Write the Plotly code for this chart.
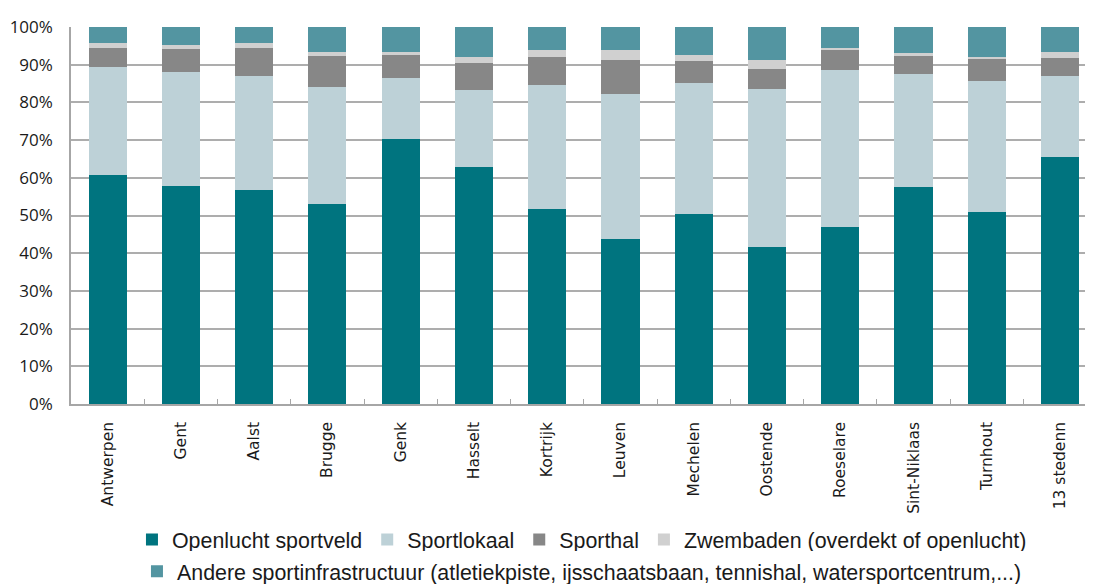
import plotly.graph_objects as go

steden = ["Antwerpen", "Gent", "Aalst", "Brugge", "Genk", "Hasselt", "Kortrijk",
          "Leuven", "Mechelen", "Oostende", "Roeselare", "Sint-Niklaas", "Turnhout",
          "13 stedenn"]

# shares in %
openlucht = [60.7, 57.8, 56.7, 53.0, 70.2, 62.8, 51.7, 43.7, 50.4, 41.6, 46.9, 57.5, 50.9, 65.5]
sportlokaal = [28.6, 30.2, 30.2, 31.0, 16.2, 20.4, 32.8, 38.5, 34.7, 41.9, 41.6, 30.0, 34.7, 21.4]
sporthal = [5.1, 6.1, 7.5, 8.2, 6.4, 7.2, 7.5, 9.0, 5.8, 5.3, 5.3, 4.7, 5.8, 4.8]
zwembaden = [1.3, 1.1, 1.3, 1.1, 0.5, 1.6, 1.8, 2.6, 1.6, 2.4, 0.6, 0.8, 0.6, 1.6]
andere = [4.3, 4.8, 4.3, 6.7, 6.7, 8.0, 6.2, 6.2, 7.5, 8.8, 5.6, 7.0, 8.0, 6.7]

series = [
    ("Openlucht sportveld", openlucht, "#00747f", "legend"),
    ("Sportlokaal", sportlokaal, "#bdd1d7", "legend"),
    ("Sporthal", sporthal, "#878787", "legend"),
    ("Zwembaden (overdekt of openlucht)", zwembaden, "#d0d0d0", "legend"),
    ("Andere sportinfrastructuur (atletiekpiste, ijsschaatsbaan, tennishal, watersportcentrum,...)",
     andere, "#5395a1", "legend2"),
]

fig = go.Figure()
for name, vals, col, lg in series:
    fig.add_trace(go.Bar(
        x=steden, y=[v / 100 for v in vals], name=name, legend=lg,
        marker=dict(color=col, line=dict(width=0)),
        width=0.52,
    ))

legend_font = dict(size=21.4, family="Liberation Sans Narrow, Liberation Sans, sans-serif", color="#1a1a1a")

# page body has an 8px margin, so the figure is a bit smaller than the window
fig.update_layout(
    barmode="stack",
    width=1085, height=576,
    margin=dict(l=63, r=0, t=19, b=180),
    paper_bgcolor="white", plot_bgcolor="white",
    font=dict(family="Liberation Sans, sans-serif", color="#1a1a1a"),
    legend=dict(
        orientation="h", xref="container", yref="container",
        x=0.529, xanchor="center", y=0.077, yanchor="middle",
        font=legend_font, itemwidth=30, traceorder="normal",
    ),
    legend2=dict(
        orientation="h", xref="container", yref="container",
        x=0.529, xanchor="center", y=0.022, yanchor="middle",
        font=legend_font, itemwidth=30,
    ),
    showlegend=True,
)

fig.update_yaxes(
    range=[0, 1], tickformat=".0%", dtick=0.1,
    showgrid=True, gridcolor="#adadad", gridwidth=1.6,
    showline=True, linecolor="#a6a6a6", linewidth=1.5,
    tickfont=dict(size=17, family="Open Sans, sans-serif", color="#1a1a1a"),
    ticks="", zeroline=False, automargin=False, ticklabelstandoff=13,
)
fig.update_xaxes(
    tickangle=-90, tickson="boundaries", ticks="inside", ticklen=5,
    tickcolor="#a6a6a6", showline=True, linecolor="#a6a6a6", linewidth=1.5,
    tickfont=dict(size=15.5, family="DejaVu Sans, sans-serif", color="#1a1a1a"),
    range=[-0.5, 13.45], automargin=False, ticklabelstandoff=10,
)

fig.write_html("out.html")
